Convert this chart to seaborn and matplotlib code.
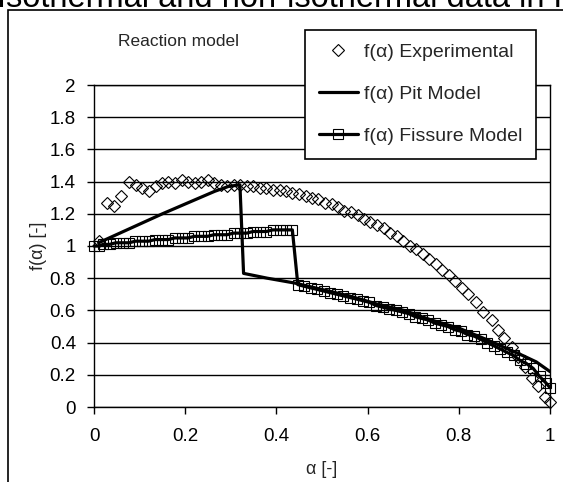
import matplotlib
matplotlib.use('Agg')
import matplotlib.pyplot as plt
import seaborn as sns
from matplotlib.patches import Rectangle

# Experimental f(alpha) (diamonds)
exp_alpha = [0.010, 0.028, 0.043, 0.060, 0.077, 0.092, 0.106, 0.120, 0.135, 0.149,
             0.163, 0.178, 0.192, 0.206, 0.221, 0.235, 0.249, 0.263, 0.278, 0.292,
             0.306, 0.321, 0.335, 0.349, 0.364, 0.378, 0.392, 0.407, 0.421, 0.435,
             0.449, 0.464, 0.478, 0.492, 0.507, 0.521, 0.535, 0.549, 0.564, 0.578,
             0.592, 0.606, 0.621, 0.635, 0.649, 0.664, 0.678, 0.692, 0.707, 0.721,
             0.735, 0.749, 0.764, 0.778, 0.792, 0.807, 0.821, 0.838, 0.853, 0.872,
             0.886, 0.900, 0.917, 0.930, 0.945, 0.960, 0.974, 0.989, 1.000]
exp_f = [1.03, 1.27, 1.25, 1.31, 1.40, 1.38, 1.36, 1.34, 1.37, 1.39,
         1.40, 1.39, 1.41, 1.40, 1.39, 1.40, 1.41, 1.39, 1.38, 1.37,
         1.38, 1.38, 1.37, 1.37, 1.36, 1.36, 1.35, 1.35, 1.34, 1.33,
         1.32, 1.31, 1.30, 1.29, 1.27, 1.26, 1.24, 1.22, 1.21, 1.19,
         1.17, 1.15, 1.13, 1.11, 1.08, 1.06, 1.03, 1.00, 0.98, 0.95,
         0.92, 0.89, 0.85, 0.82, 0.78, 0.74, 0.70, 0.65, 0.59, 0.54,
         0.48, 0.43, 0.37, 0.31, 0.25, 0.18, 0.13, 0.06, 0.03]

# Pit model (line only)
pit_alpha = [0.010, 0.150, 0.265, 0.295, 0.320, 0.328, 0.380, 0.440, 0.500, 0.560,
             0.620, 0.680, 0.740, 0.800, 0.860, 0.900, 0.940, 0.970, 1.000]
pit_f = [1.02, 1.20, 1.34, 1.37, 1.38, 0.83, 0.80, 0.77, 0.73, 0.69,
         0.64, 0.60, 0.54, 0.49, 0.42, 0.37, 0.32, 0.28, 0.22]

# Fissure model (line + squares)
fis_alpha = [0.000, 0.010, 0.020, 0.034, 0.048, 0.063, 0.077, 0.091, 0.106, 0.120,
             0.134, 0.149, 0.163, 0.177, 0.192, 0.206, 0.220, 0.235, 0.249, 0.263,
             0.278, 0.292, 0.306, 0.321, 0.335, 0.349, 0.364, 0.378, 0.392, 0.407,
             0.421, 0.435, 0.447, 0.461, 0.475, 0.490, 0.504, 0.518, 0.533, 0.547,
             0.561, 0.576, 0.590, 0.604, 0.619, 0.633, 0.647, 0.662, 0.676, 0.690,
             0.705, 0.719, 0.733, 0.748, 0.762, 0.776, 0.791, 0.805, 0.819, 0.834,
             0.848, 0.862, 0.877, 0.891, 0.905, 0.920, 0.934, 0.948, 0.963, 0.977,
             0.991, 1.000]
fis_f = [1.00, 1.00, 1.01, 1.01, 1.02, 1.02, 1.02, 1.03, 1.03, 1.03,
         1.04, 1.04, 1.04, 1.05, 1.05, 1.05, 1.06, 1.06, 1.06, 1.07,
         1.07, 1.07, 1.08, 1.08, 1.08, 1.09, 1.09, 1.09, 1.10, 1.10,
         1.10, 1.10, 0.76, 0.75, 0.74, 0.73, 0.72, 0.71, 0.70, 0.69,
         0.68, 0.67, 0.66, 0.65, 0.63, 0.62, 0.61, 0.60, 0.59, 0.58,
         0.56, 0.55, 0.54, 0.52, 0.51, 0.50, 0.48, 0.47, 0.45, 0.44,
         0.42, 0.40, 0.38, 0.36, 0.34, 0.32, 0.29, 0.27, 0.24, 0.19,
         0.15, 0.12]

x_ticks = [0, 0.2, 0.4, 0.6, 0.8, 1]
y_ticks = [0, 0.2, 0.4, 0.6, 0.8, 1, 1.2, 1.4, 1.6, 1.8, 2]

sns.set_style('white')
plt.rcParams['font.family'] = ['Liberation Sans', 'DejaVu Sans']

W, H = 563, 482
fig = plt.figure(figsize=(W / 100, H / 100), dpi=100)
ax = fig.add_axes([94 / W, 1 - 407 / H, (550 - 94) / W, (407 - 85) / H])

# outer chart frame and the clipped title above it
fig.patches.append(Rectangle((8 / W, -0.1), 1.2, 1.1 - 10 / H, transform=fig.transFigure,
                             fill=False, edgecolor='black', linewidth=1.2, zorder=0))
fig.text(-0.006, 1 - 7 / H, 'Isothermal and non-isothermal data in F', fontsize=23.5,
         ha='left', va='baseline', color='black')

sns.lineplot(x=exp_alpha, y=exp_f, ax=ax, sort=False, estimator=None, linestyle='none',
             marker='D', markersize=6.5, markerfacecolor='none', markeredgecolor='black',
             markeredgewidth=0.8, label='f(α) Experimental', clip_on=False)
sns.lineplot(x=pit_alpha, y=pit_f, ax=ax, sort=False, estimator=None, color='black',
             linewidth=2.3, label='f(α) Pit Model')
sns.lineplot(x=fis_alpha, y=fis_f, ax=ax, sort=False, estimator=None, color='black',
             linewidth=2.3, marker='s', markersize=6.5, markerfacecolor='none',
             markeredgecolor='black', markeredgewidth=0.8, label='f(α) Fissure Model',
             clip_on=False)

ax.set_xlim(0, 1)
ax.set_ylim(0, 2)
ax.set_xticks(x_ticks)
ax.set_xticklabels([f'{t:g}' for t in x_ticks])
ax.set_yticks(y_ticks)
ax.set_yticklabels([f'{t:g}' for t in y_ticks])
ax.yaxis.grid(True, color='black', linewidth=1)
ax.xaxis.grid(False)
ax.set_axisbelow(True)
ax.tick_params(axis='both', direction='out', length=5, width=1, color='black',
               labelsize=13.5, labelcolor='black', left=True, bottom=True)
ax.tick_params(axis='x', pad=10)
ax.tick_params(axis='y', pad=8)
for side in ['left', 'bottom', 'right', 'top']:
    ax.spines[side].set_color('black')
    ax.spines[side].set_linewidth(1)
    ax.spines[side].set_visible(True)

ax.set_xlabel('α [-]', fontsize=13, labelpad=12)
ax.set_ylabel('f(α) [-]', fontsize=13, labelpad=2)

fig.text(178 / W, 1 - 42 / H, 'Reaction model', fontsize=12.5, ha='center', va='center')

leg = ax.legend(loc='upper left', bbox_to_anchor=(305 / W, 1 - 30 / H),
                bbox_transform=fig.transFigure, fontsize=14, frameon=True, fancybox=False,
                edgecolor='black', framealpha=1, borderpad=0.7, labelspacing=1.25,
                handlelength=2.0, handletextpad=0.35, borderaxespad=0)
leg.get_frame().set_linewidth(1.2)

fig.savefig('out.png', dpi=100)
